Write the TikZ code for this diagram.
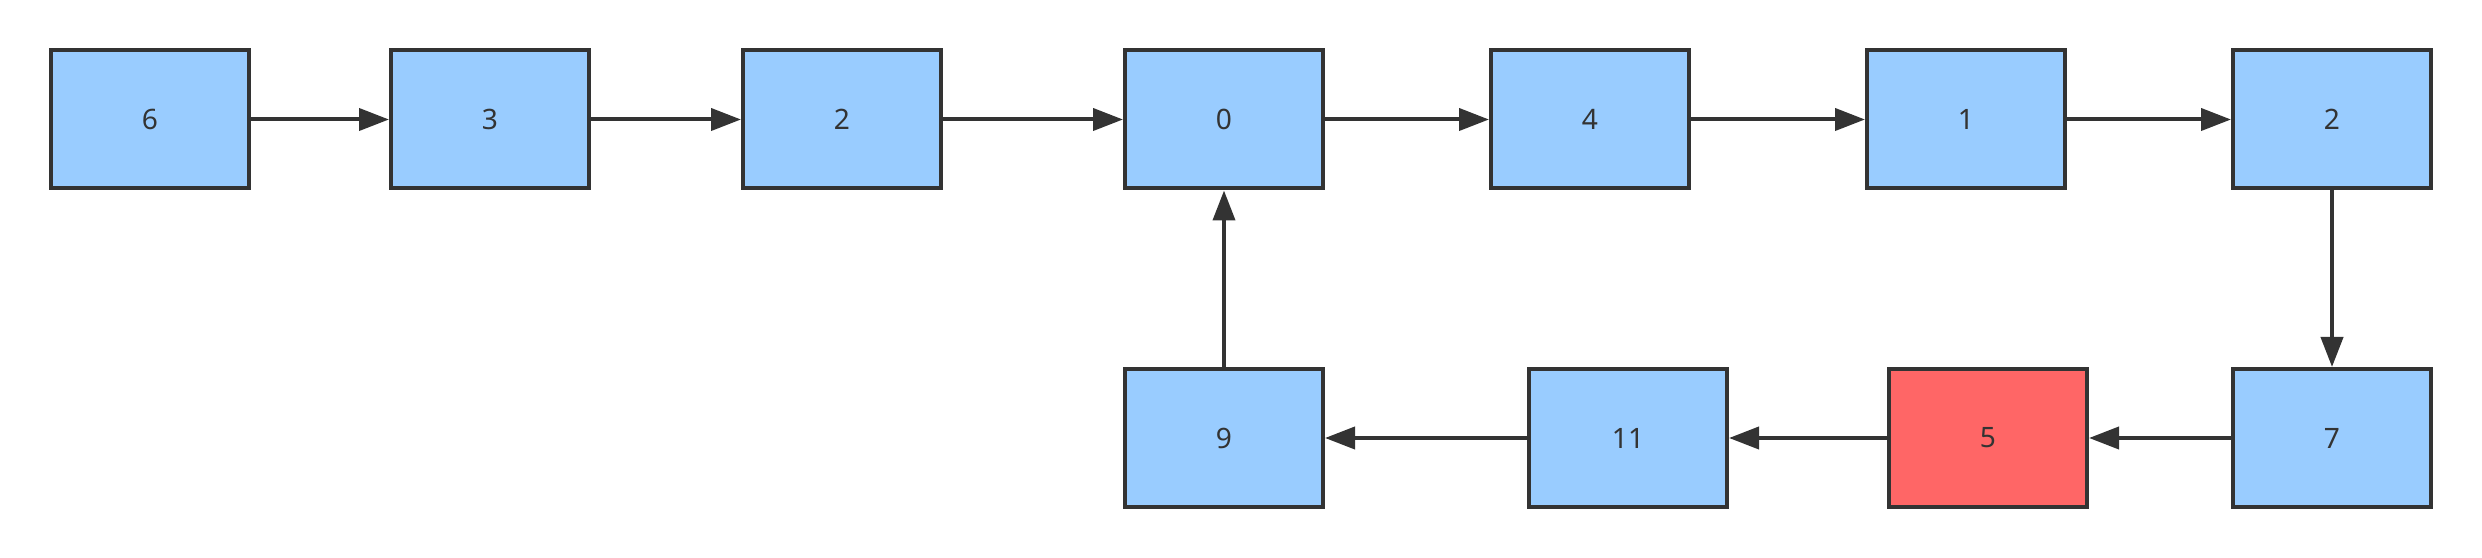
\documentclass[tikz,border=0pt]{standalone}
\usepackage{fontspec}
\setmainfont{Noto Sans}
\usetikzlibrary{graphs}
\usetikzlibrary{arrows.meta}
\definecolor{boxfill}{HTML}{99CCFF}
\definecolor{hotfill}{HTML}{FF6666}
\definecolor{edgecol}{HTML}{333333}
\tikzset{
  box/.style={draw=edgecol, fill=boxfill, line width=0.04cm,
    minimum width=1.98cm, minimum height=1.38cm, inner sep=0pt,
    text=edgecol, font=\fontsize{8}{10}\selectfont},
  hot/.style={fill=hotfill},
  link/.style={draw=edgecol, line width=0.04cm,
    -{Triangle[length=0.3cm,width=0.22cm]}}
}

\begin{document}
\begin{tikzpicture}
    \useasboundingbox (0,0) rectangle (24.82,5.57);
    \graph [no placement, nodes={box}, edges={link}]
    {
      n6/"6" [at={(1.50,4.375)}] ->
      n3/"3" [at={(4.90,4.375)}] ->
      a2/"2" [at={(8.42,4.375)}] ->
      n0/"0" [at={(12.24,4.375)}] ->
      n4/"4" [at={(15.90,4.375)}] ->
      n1/"1" [at={(19.66,4.375)}] ->
      b2/"2" [at={(23.32,4.375)}] ->
      n7/"7" [at={(23.32,1.19)}] ->
      n5/"5" [at={(19.88,1.19)}, hot] ->
      n11/"11" [at={(16.28,1.19)}] ->
      n9/"9" [at={(12.24,1.19)}] ->
      n0
    };
  \end{tikzpicture}
\end{document}
